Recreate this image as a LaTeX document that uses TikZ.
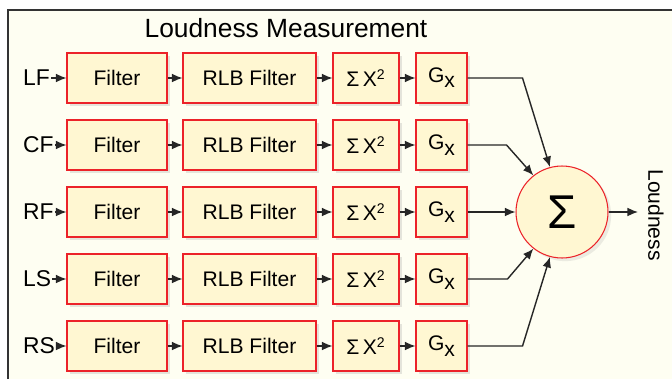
\documentclass[tikz,border=0pt]{standalone}
\usepackage{fontspec}
\setmainfont{Liberation Sans}
\usetikzlibrary{shadows,arrows.meta}

\definecolor{bgcream}{HTML}{FEFEF2}
\definecolor{boxfill}{HTML}{FFF7D2}
\definecolor{boxred}{HTML}{EC2229}

\begin{document}
\begin{tikzpicture}[x=0.02cm,y=-0.02cm,
    blk/.style={draw=boxred,fill=boxfill,line width=0.6pt,minimum height=1cm,inner sep=0pt,
                font=\fontsize{12}{14}\selectfont,
                drop shadow={shadow xshift=1.8pt,shadow yshift=-1.8pt,opacity=0.2,fill=gray}},
    arr/.style={-{Latex[length=6pt,width=5pt]},line width=0.8pt,draw=black!85}]
    \useasboundingbox (0,0) rectangle (672,379);
    \fill[white] (0,0) rectangle (672,379);
    \fill[bgcream] (8,10) rectangle (672,379);
    \draw[black!80,line width=1.3pt] (8,379) -- (8,10) -- (672,10);
    \node (title) at (286,28) {\fontsize{15}{17}\selectfont Loudness Measurement};
    % sum
    \node[circle,draw=boxred,fill=boxfill,minimum size=1.84cm,inner sep=0pt,line width=0.6pt,
          drop shadow={shadow xshift=1.8pt,shadow yshift=-1.8pt,opacity=0.15,fill=gray}]
        (sum) at (562,212) {\fontsize{27}{30}\selectfont Σ};
    \foreach \lab [count=\i] in {LF,CF,RF,LS,RS} {
        \node[anchor=west,inner sep=0.5pt,font=\fontsize{13}{15}\selectfont] (in\i) at (22,{78+67*(\i-1)}) {\lab};
        \node[blk,minimum width=2cm] (f\i) at (117,{78+67*(\i-1)}) {Filter};
        \node[blk,minimum width=2.66cm] (r\i) at (249.5,{78+67*(\i-1)}) {RLB Filter};
        \node[blk,minimum width=1.32cm] (s\i) at (366,{78+67*(\i-1)}) {Σ\,X\textsuperscript{2}};
        \node[blk,minimum width=1.02cm] (g\i) at (441.5,{78+67*(\i-1)}) {G\raisebox{-0.25em}{x}};
        \draw[arr] (in\i.east) -- (f\i.west);
        \draw[arr] (f\i.east) -- (r\i.west);
        \draw[arr] (r\i.east) -- (s\i.west);
        \draw[arr] (s\i.east) -- (g\i.west);
    }
    \draw[arr] (g1.east) -- ++(55,0) -- (sum.105);
    \draw[arr] (g2.east) -- ++(39,0) -- (sum.128);
    \draw[arr] (g3.east) -- (sum.west);
    \draw[arr] (g4.east) -- ++(40,0) -- (sum.232);
    \draw[arr] (g5.east) -- ++(55,0) -- (sum.255);
    \coordinate (out) at (638,212);
    \draw[arr] (sum.east) -- (out);
    \node[rotate=-90,font=\fontsize{12}{14}\selectfont] (loud) at (656,215) {Loudness};
\end{tikzpicture}
\end{document}
